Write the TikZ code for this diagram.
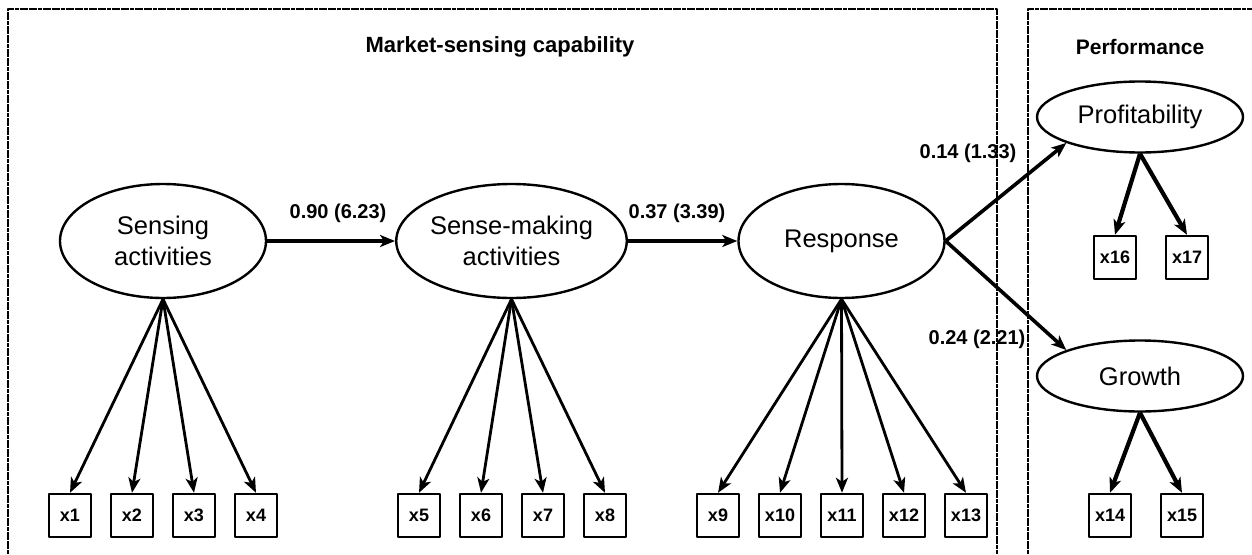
\documentclass[tikz,border=0pt]{standalone}
\usepackage{fontspec}
\setmainfont{Liberation Sans}
\usetikzlibrary{arrows.meta,shapes.geometric}
\begin{document}
\begin{tikzpicture}[x=1pt, y=-1pt, line join=round, >={Stealth[length=15pt,width=12pt,inset=4pt]},
	latent/.style={draw, ellipse, line width=2.4pt, minimum width=206pt, minimum height=114pt, inner sep=0pt, align=center, font=\fontsize{25.5}{31}\selectfont},
	smalllatent/.style={latent, minimum height=71pt},
	item/.style={draw, line width=2.4pt, minimum width=42pt, minimum height=43pt, inner sep=0pt, font=\fontsize{18}{20}\selectfont\bfseries},
	coef/.style={inner sep=0pt, font=\fontsize{20}{22}\selectfont\bfseries},
	heading/.style={inner sep=0pt, font=\fontsize{22}{26}\selectfont\bfseries},
	frame/.style={line width=2.2pt, dash pattern=on 4pt off 0.6pt}]
	\useasboundingbox (0,0) rectangle (1252,554);
	\def\yrow{515.5} % hàng chỉ báo dưới
	% các biến tiềm ẩn
	\node[latent] (SA) at (163,241) {Sensing\\activities};
	\node[latent] (SM) at (511.5,241) {Sense-making\\activities};
	\node[latent] (R) at (841.5,241) {Response};
	\node[smalllatent] (P) at (1140,117) {Profitability};
	\node[smalllatent] (G) at (1140,376) {Growth};
	% các chỉ báo
	\foreach \i/\x in {1/70,2/132,3/194,4/256,5/419,6/481,7/543,8/605,9/718,10/780,11/842,12/904,13/966,14/1110,15/1182}
		\node[item] (x\i) at (\x,\yrow) {x\i};
	\node[item] (x16) at (1115,257.5) {x16};
	\node[item] (x17) at (1187,257.5) {x17};
	% hệ số tải
	\foreach \i in {1,...,4} \draw[->, line width=2.8pt] (SA.south) -- (x\i.north);
	\foreach \i in {5,...,8} \draw[->, line width=2.8pt] (SM.south) -- (x\i.north);
	\foreach \i in {9,...,13} \draw[->, line width=2.8pt] (R.south) -- (x\i.north);
	\foreach \i in {16,17} \draw[->, line width=4.2pt] (P.south) -- (x\i.north);
	\foreach \i in {14,15} \draw[->, line width=4.2pt] (G.south) -- (x\i.north);
	% đường dẫn cấu trúc
	\draw[->, line width=3.6pt] (SA.east) -- (SM.west);
	\draw[->, line width=3.6pt] (SM.east) -- (R.west);
	\draw[->, line width=3.6pt] (R.east) -- (P.south west);
	\draw[->, line width=3.6pt] (R.east) -- (G.north west);
	\node[coef] (c1) at (338,213) {0.90 (6.23)};
	\node[coef] (c2) at (677,213) {0.37 (3.39)};
	\node[coef] (c3) at (968,153) {0.14 (1.33)};
	\node[coef] (c4) at (977,339) {0.24 (2.21)};
	% khung
	\node[heading] (T1) at (500,47) {Market-sensing capability};
	\node[heading, font=\fontsize{21}{25}\selectfont\bfseries] (T2) at (1140,47) {Performance};
	\draw[frame] (8,554) -- (8,9) -- (997,9) -- (997,554);
	\draw[frame] (1028,554) -- (1028,9) -- (1252,9);
\end{tikzpicture}
\end{document}
